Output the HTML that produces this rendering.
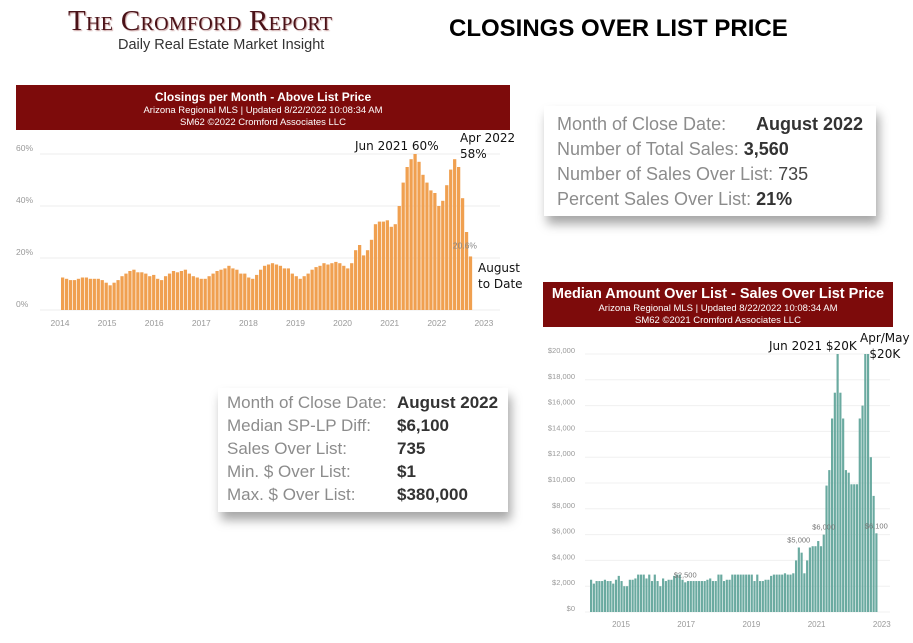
<!DOCTYPE html>
<html><head><meta charset="utf-8"><style>
body{margin:0;width:913px;height:643px;background:#fff;position:relative;overflow:hidden;font-family:"Liberation Sans",sans-serif}
.abs{position:absolute}
.box{position:absolute;background:#fff;box-shadow:3px 8px 10px rgba(0,0,0,0.35);color:#8c8c8c;font-family:"Liberation Sans",sans-serif}
.box div{position:absolute;white-space:nowrap}
.box b{color:#333;font-weight:bold}
.ann{position:absolute;font-family:"DejaVu Sans",sans-serif;font-size:12px;color:#111;white-space:nowrap;line-height:16px}
</style></head><body>
<div class="abs" style="left:68px;top:5px;font-family:'Liberation Serif',serif;font-size:29px;line-height:32px;color:#4a1218;letter-spacing:0.3px;font-variant:small-caps;text-shadow:1px 1px 1px #c9a0a0">The Cromford Report</div>
<div class="abs" style="left:118px;top:37px;font-size:14.5px;color:#333">Daily Real Estate Market Insight</div>
<div class="abs" style="left:449px;top:15px;font-size:24px;font-weight:bold;color:#000">CLOSINGS OVER LIST PRICE</div>

<div class="box" style="left:544px;top:106px;width:332px;height:110px;font-size:18px">
<div style="left:13px;top:8px">Month of Close Date:</div><div style="left:212px;top:8px"><b>August 2022</b></div>
<div style="left:13px;top:33px">Number of Total Sales: <b>3,560</b></div>
<div style="left:13px;top:58px">Number of Sales Over List: <span style="color:#444">735</span></div>
<div style="left:13px;top:83px">Percent Sales Over List: <b>21%</b></div>
</div>
<div class="box" style="left:218px;top:388px;width:290px;height:124px;font-size:17px">
<div style="left:9px;top:5px">Month of Close Date:</div><div style="left:179px;top:5px"><b>August 2022</b></div>
<div style="left:9px;top:28px">Median SP-LP Diff:</div><div style="left:179px;top:28px"><b>$6,100</b></div>
<div style="left:9px;top:51px">Sales Over List:</div><div style="left:179px;top:51px"><b>735</b></div>
<div style="left:9px;top:74px">Min. $ Over List:</div><div style="left:179px;top:74px"><b>$1</b></div>
<div style="left:9px;top:97px">Max. $ Over List:</div><div style="left:179px;top:97px"><b>$380,000</b></div>
</div>

<svg class="abs" style="left:0;top:0" width="913" height="643" id="svg"></svg>

<div class="ann" style="left:355px;top:138px">Jun 2021 60%</div>
<div class="ann" style="left:460px;top:130px">Apr 2022<br>58%</div>
<div class="ann" style="left:478px;top:260px">August<br>to Date</div>
<div class="ann" style="left:769px;top:338px">Jun 2021 $20K</div>
<div class="ann" style="left:860px;top:330px;text-align:center">Apr/May<br>$20K</div>

<script>
const pctValues=[12.5,12,11.5,11.5,12,12.5,12.5,12,12,12,11.5,10.5,
9.5,10.5,11.5,13,14,15,15.5,14.5,14.5,14,13,13.5,
12,11.5,13,14,15,14.5,15,15.5,14,13,12.5,12,
12,13,14,15,15.5,16,17,16,15.5,14,14,12.5,
12,13.5,15.5,17,17.5,18,17.5,17,16,16,14,13,
12,13,14,15.5,16.5,17,18,17.5,18,18.5,18,17,
16,18,23,25,21,23,27,33,34,34,34.5,32,
33,40,49,55,58,60,57,52,49,46,45,40,
42,48,54,58,55,43,30,20.6];
const pctTicks=[0,20,40,60];
const yearLabels=[2014,2015,2016,2017,2018,2019,2020,2021,2022,2023];
const amtValues=[2.5,2.2,2.4,2.4,2.4,2.5,2.4,2.4,2.2,2.5,2.8,2.4,
2,2,2.5,2.5,2.6,2.9,2.9,2.9,2.6,2.9,2.4,2.9,
2.4,2,2.6,2.4,2.5,2.5,2.8,2.9,2.9,2.5,2.3,2.4,
2.4,2.4,2.4,2.4,2.4,2.4,2.5,2.6,2.4,2.4,2.9,2.9,
2.4,2.5,2.5,2.9,2.9,2.9,2.9,2.9,2.9,2.9,2.9,2.4,
2.9,2.4,2.4,2.5,2.5,2.8,2.9,2.9,2.9,2.9,3,2.9,
2.9,3,4,5,4.6,3,4,5,5.1,5.1,5.5,5.1,
6,9.8,11,15,17,20,17,15,11,10.8,9.9,9.9,
9.9,15,16,20,20,12,9,6.1];
const amtTicks=[0,2,4,6,8,10,12,14,16,18,20];
const amtYearLabels=[2015,2017,2019,2021,2023];
const amtLabels=[{i:34,t:'$2,500'},{i:75,t:'$5,000'},{i:84,t:'$6,000'},{i:103,t:'$6,100'}];

const svg=document.getElementById('svg');const NS='http://www.w3.org/2000/svg';
function mk(tag,at,txt){const e=document.createElementNS(NS,tag);for(const k in at)e.setAttribute(k,at[k]);if(txt!=null)e.textContent=txt;svg.appendChild(e);return e;}

function banner(x,y,w,h,t1,s1,s2,name,f1,f2,ys){
 const r=mk('rect',{x:x,y:y,width:w,height:h,fill:'#7d0b0b'});
 
 
 const a=mk('text',{x:x+w/2,y:y+ys[0],'text-anchor':'middle','font-size':f1,'font-weight':'bold',fill:'#fff','font-family':'Liberation Sans'},t1);
 
 
 mk('text',{x:x+w/2,y:y+ys[1],'text-anchor':'middle','font-size':f2,fill:'#fff'},s1);
 mk('text',{x:x+w/2,y:y+ys[2],'text-anchor':'middle','font-size':f2,fill:'#fff'},s2);
}
banner(16,85,494,45,'Closings per Month - Above List Price','Arizona Regional MLS | Updated  8/22/2022 10:08:34 AM','SM62 ©2022 Cromford Associates LLC','left-chart-banner',12,9.5,[16,28,40]);
banner(543,282,350,45,'Median Amount Over List - Sales Over List Price','Arizona Regional MLS | Updated  8/22/2022 10:08:34 AM','SM62 ©2021 Cromford Associates LLC','right-chart-banner',14.5,9.5,[16,29,41]);

const L={x0:61,bw:3.96,y0:310,k:2.6};
const ly=v=>L.y0-v*L.k, lx=i=>L.x0+i*L.bw;
pctTicks.forEach(t=>{
 mk('line',{x1:40,x2:500,y1:ly(t),y2:ly(t),stroke:'#eee','stroke-width':1});
 const e=mk('text',{x:16,y:ly(t)-3,'font-size':8.5,fill:'#999'},t+'%');
 
 
});
yearLabels.forEach((y,i)=>{
 const e=mk('text',{x:60+i*47.1,y:326,'text-anchor':'middle','font-size':8.5,fill:'#999'},y);
 
 
});
pctValues.forEach((v,i)=>{
 const e=mk('rect',{x:lx(i),y:ly(v),width:L.bw-0.7,height:v*L.k,fill:'#f0a050'});
 
 
});
const lastI=pctValues.length-1;
const lbl=mk('text',{x:lx(lastI)-16,y:ly(pctValues[lastI])-8,'font-size':8.5,fill:'#888'},pctValues[lastI]+'%');



const R={x0:590,bw:2.77,y0:612,k:12.9};
const ry=v=>R.y0-v*R.k, rx=i=>R.x0+i*R.bw;
amtTicks.forEach(t=>{
 mk('line',{x1:585,x2:890,y1:ry(t),y2:ry(t),stroke:'#f0f0f0','stroke-width':1});
 const e=mk('text',{x:575,y:ry(t)-1,'text-anchor':'end','font-size':7.5,fill:'#999'},'$'+(t===0?'0':t+',000'));
 
 
});
amtYearLabels.forEach((y,i)=>{
 const e=mk('text',{x:621+i*65.2,y:627,'text-anchor':'middle','font-size':8,fill:'#999'},y);
 
 
});
amtValues.forEach((v,i)=>{
 const e=mk('rect',{x:rx(i),y:ry(v),width:R.bw-0.6,height:v*R.k,fill:'#6aaaa0'});
 
 
});
amtLabels.forEach(l=>{
 const e=mk('text',{x:rx(l.i)+1,y:ry(amtValues[l.i])-5,'text-anchor':'middle','font-size':7.5,fill:'#777'},l.t);
 
 
});
</script>
</body></html>
